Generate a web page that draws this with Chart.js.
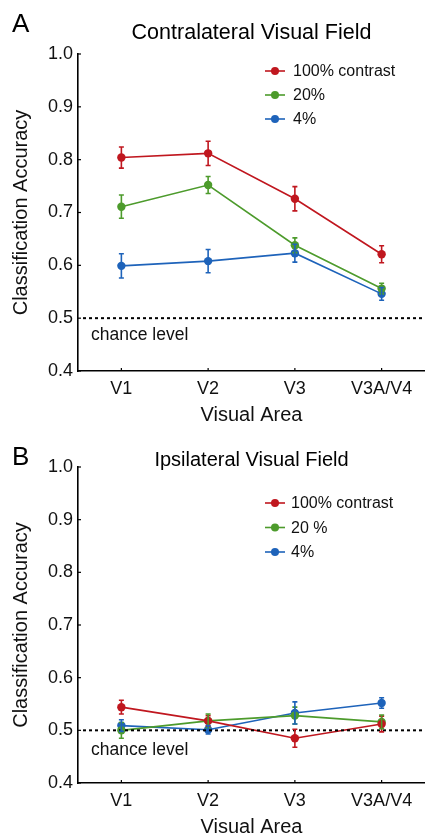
<!DOCTYPE html>
<html lang="en">
<head>
    <meta charset="UTF-8">
    <title>Classification Accuracy by Visual Area</title>
    <style>
        body {
            margin: 0;
            background: #ffffff;
            font-family: "Liberation Sans", Arial, sans-serif;
        }
        #page {
            position: relative;
            width: 425px;
            height: 837px;
            overflow: hidden;
        }
        .panel {
            position: absolute;
            left: 0;
        }
        .letter {
            position: absolute;
            left: 12px;
            font-size: 26px;
            line-height: 1;
            color: #000;
        }
    </style>
    <script src="https://cdn.jsdelivr.net/npm/chart.js"></script>
</head>
<body>
<div id="page">
    <canvas id="contraChart" class="panel" width="425" height="427" style="top:0"></canvas>
    <canvas id="ipsiChart" class="panel" width="425" height="414" style="top:425px"></canvas>
    <div class="letter" style="top:10px">A</div>
    <div class="letter" style="top:443px">B</div>
</div>

<script>
    // categories and tick labels
    const areas = ['V1', 'V2', 'V3', 'V3A/V4'];
    const yTicks = [0.4, 0.5, 0.6, 0.7, 0.8, 0.9, 1.0];
    const chanceLevel = 0.5;

    // panel A - contralateral visual field (mean, SEM)
    const contra100 = [0.804, 0.812, 0.726, 0.621];
    const contra100Err = [0.020, 0.023, 0.023, 0.016];
    const contra20 = [0.711, 0.752, 0.638, 0.556];
    const contra20Err = [0.022, 0.016, 0.014, 0.010];
    const contra4 = [0.599, 0.608, 0.623, 0.546];
    const contra4Err = [0.023, 0.022, 0.017, 0.012];

    // panel B - ipsilateral visual field (mean, SEM)
    const ipsi100 = [0.544, 0.518, 0.485, 0.512];
    const ipsi100Err = [0.013, 0.010, 0.017, 0.015];
    const ipsi20 = [0.500, 0.518, 0.528, 0.516];
    const ipsi20Err = [0.015, 0.013, 0.016, 0.013];
    const ipsi4 = [0.509, 0.501, 0.533, 0.552];
    const ipsi4Err = [0.011, 0.008, 0.021, 0.010];

    const RED = '#c0171f';
    const GREEN = '#4d9b2c';
    const BLUE = '#1e63ba';
    const FONT = '"Liberation Sans", Arial, sans-serif';

    // error bars, inside ticks, chance line and the line+dot legend
    const extrasPlugin = {
        id: 'extras',
        afterDatasetsDraw(chart) {
            const ctx = chart.ctx;
            const x = chart.scales.x;
            const y = chart.scales.y;
            const area = chart.chartArea;
            const opts = chart.options.plugins.extras;

            // chance level
            ctx.save();
            const yc = y.getPixelForValue(chanceLevel);
            ctx.strokeStyle = '#000';
            ctx.lineWidth = 2;
            ctx.setLineDash([3, 3]);
            ctx.beginPath();
            ctx.moveTo(area.left + 5, yc);
            ctx.lineTo(area.right, yc);
            ctx.stroke();
            ctx.setLineDash([]);
            ctx.fillStyle = '#111';
            ctx.font = '17.5px ' + FONT;
            ctx.textBaseline = 'middle';
            ctx.fillText('chance level', area.left + 13, yc + opts.chanceOffset);

            // tick marks pointing inward
            ctx.lineWidth = 1.2;
            y.ticks.forEach((t, i) => {
                const py = y.getPixelForTick(i);
                ctx.beginPath();
                ctx.moveTo(area.left, py);
                ctx.lineTo(area.left + 3, py);
                ctx.stroke();
            });
            x.ticks.forEach((t, i) => {
                const px = x.getPixelForTick(i);
                ctx.beginPath();
                ctx.moveTo(px, area.bottom);
                ctx.lineTo(px, area.bottom - 3);
                ctx.stroke();
            });

            // error bars
            chart.data.datasets.forEach((ds, di) => {
                const meta = chart.getDatasetMeta(di);
                ctx.strokeStyle = ds.borderColor;
                ctx.lineWidth = 1.6;
                meta.data.forEach((pt, i) => {
                    const top = y.getPixelForValue(ds.data[i] + ds.errors[i]);
                    const bot = y.getPixelForValue(ds.data[i] - ds.errors[i]);
                    ctx.beginPath();
                    ctx.moveTo(pt.x, top);
                    ctx.lineTo(pt.x, bot);
                    ctx.moveTo(pt.x - 2.5, top);
                    ctx.lineTo(pt.x + 2.5, top);
                    ctx.moveTo(pt.x - 2.5, bot);
                    ctx.lineTo(pt.x + 2.5, bot);
                    ctx.stroke();
                });
            });

            // legend
            ctx.font = '16px ' + FONT;
            chart.data.datasets.forEach((ds, di) => {
                const ly = area.top + opts.legendTop + di * opts.legendStep;
                ctx.strokeStyle = ds.borderColor;
                ctx.fillStyle = ds.borderColor;
                ctx.lineWidth = 1.6;
                ctx.beginPath();
                ctx.moveTo(265, ly);
                ctx.lineTo(285, ly);
                ctx.stroke();
                ctx.beginPath();
                ctx.arc(275, ly, 4, 0, Math.PI * 2);
                ctx.fill();
                ctx.fillStyle = '#111';
                ctx.fillText(ds.label, opts.legendTextX, ly + 1);
            });
            ctx.restore();
        }
    };

    function makeSeries(label, values, errors, color) {
        return {
            label: label,
            data: values,
            errors: errors,
            borderColor: color,
            backgroundColor: color,
            pointBackgroundColor: color,
            pointBorderWidth: 0,
            pointRadius: 4.2,
            borderWidth: 1.6,
            tension: 0
        };
    }

    function makeChart(id, title, series, extras, titleFont, titlePad) {
        const ctx = document.getElementById(id).getContext('2d');
        return new Chart(ctx, {
            type: 'line',
            data: { labels: areas, datasets: series },
            options: {
                responsive: false,
                animation: false,
                events: [],
                layout: { padding: 0, autoPadding: false },
                plugins: {
                    legend: { display: false },
                    tooltip: { enabled: false },
                    title: {
                        display: true,
                        text: title,
                        fullSize: false,
                        color: '#000',
                        font: titleFont,
                        padding: titlePad
                    },
                    extras: extras
                },
                scales: {
                    x: {
                        type: 'category',
                        offset: true,
                        grid: { display: false, drawTicks: false },
                        border: { display: true, color: '#000', width: 1.6 },
                        ticks: { color: '#111', font: { family: FONT, size: 18 }, padding: 7 },
                        title: {
                            display: true,
                            text: 'Visual Area',
                            color: '#111',
                            font: { family: FONT, size: 20 },
                            padding: 0
                        },
                        afterFit: (scale) => { scale.height = 56; }
                    },
                    y: {
                        min: 0.4,
                        max: 1.0,
                        afterBuildTicks: (scale) => {
                            scale.ticks = yTicks.map(v => ({ value: v }));
                        },
                        grid: { display: false, drawTicks: false },
                        border: { display: true, color: '#000', width: 1.6 },
                        ticks: {
                            color: '#111',
                            font: { family: FONT, size: 18 },
                            padding: 5,
                            callback: (v) => Number(v).toFixed(1)
                        },
                        title: {
                            display: true,
                            text: 'Classification Accuracy',
                            color: '#111',
                            font: { family: FONT, size: 20 },
                            padding: { top: 9, bottom: 0 }
                        },
                        afterFit: (scale) => { scale.width = 78; }
                    }
                }
            },
            plugins: [extrasPlugin]
        });
    }

    makeChart('contraChart', 'Contralateral Visual Field', [
        makeSeries('100% contrast', contra100, contra100Err, RED),
        makeSeries('20%', contra20, contra20Err, GREEN),
        makeSeries('4%', contra4, contra4Err, BLUE)
    ], { legendTop: 17, legendStep: 24, legendTextX: 293, chanceOffset: 17 },
    { family: FONT, size: 21.5, weight: 'normal', lineHeight: 1.2 },
    { top: 20, bottom: 8.2 });

    makeChart('ipsiChart', 'Ipsilateral Visual Field', [
        makeSeries('100% contrast', ipsi100, ipsi100Err, RED),
        makeSeries('20 %', ipsi20, ipsi20Err, GREEN),
        makeSeries('4%', ipsi4, ipsi4Err, BLUE)
    ], { legendTop: 36, legendStep: 24.5, legendTextX: 291, chanceOffset: 20 },
    { family: FONT, size: 20, weight: 'normal', lineHeight: 0.5 },
    { top: 30, bottom: 2 });
</script>
</body>
</html>
